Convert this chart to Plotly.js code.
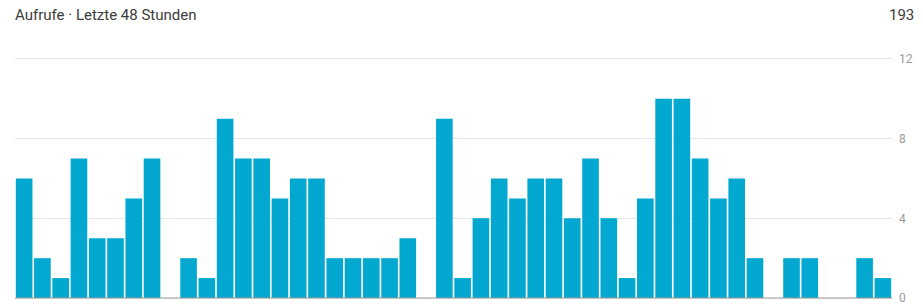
<!DOCTYPE html>
<html>
<head>
<meta charset="utf-8">
<script src="https://cdn.plot.ly/plotly-3.0.1.min.js"></script>
<style>
  html, body { margin: 0; padding: 0; background: #fff; }
  #chart { width: 923px; height: 304px; }
</style>
</head>
<body>
<div id="chart"></div>
<script>
// Hourly page views over the last 48 hours
const hours = Array.from({length: 48}, (_, i) => i);
const views = [6, 2, 1, 7, 3, 3, 5, 7, 0, 2, 1, 9, 7, 7, 5, 6, 6, 2, 2, 2, 2, 3, 0,
               9, 1, 4, 6, 5, 6, 6, 4, 7, 4, 1, 5, 10, 10, 7, 5, 6, 2, 0, 2, 2, 0, 0, 2, 1];
const yTicks = [0, 4, 8, 12];
const titleText = 'Aufrufe · Letzte 48 Stunden';
const totalViews = views.reduce((a, b) => a + b, 0);

const trace = {
  type: 'bar',
  x: hours,
  y: views,
  marker: { color: '#02a8d0', line: { width: 0 } },
  hoverinfo: 'y'
};

const layout = {
  width: 923,
  height: 304,
  margin: { l: 15, r: 31, t: 57, b: 4 },
  paper_bgcolor: '#fff',
  plot_bgcolor: '#fff',
  bargap: 0.09,
  showlegend: false,
  font: { family: 'Roboto, Arial, sans-serif' },
  xaxis: {
    range: [-0.5, 47.5],
    showticklabels: false,
    showgrid: false,
    zeroline: false,
    ticks: '',
    fixedrange: true
  },
  yaxis: {
    side: 'right',
    range: [-0.1, 12.1],
    tickvals: yTicks,
    ticktext: yTicks.map(String),
    showgrid: true,
    gridcolor: '#e6e6e6',
    gridwidth: 1,
    zeroline: false,
    showline: false,
    ticks: '',
    ticklabelstandoff: 6,
    ticklabeloverflow: 'allow',
    tickfont: { size: 12, color: '#9a9a9a', family: 'Roboto, Arial, sans-serif' },
    fixedrange: true
  },
  shapes: [{
    type: 'line', xref: 'paper', yref: 'y',
    x0: 0, x1: 1, y0: 0, y1: 0,
    line: { color: '#9e9e9e', width: 1 }
  }],
  annotations: [
    {
      xref: 'paper', yref: 'paper', x: 0, y: 1, xanchor: 'left', yanchor: 'middle',
      xshift: -2, yshift: 42, text: titleText, showarrow: false,
      font: { size: 15, color: '#3c3c3c', family: 'Roboto, Arial, sans-serif' }
    },
    {
      xref: 'paper', yref: 'paper', x: 1, y: 1, xanchor: 'right', yanchor: 'middle',
      xshift: 24, yshift: 42, text: String(totalViews), showarrow: false,
      font: { size: 15, color: '#3c3c3c', family: 'Roboto, Arial, sans-serif' }
    }
  ]
};

Plotly.newPlot('chart', [trace], layout, { displayModeBar: false, staticPlot: true });
</script>
</body>
</html>
